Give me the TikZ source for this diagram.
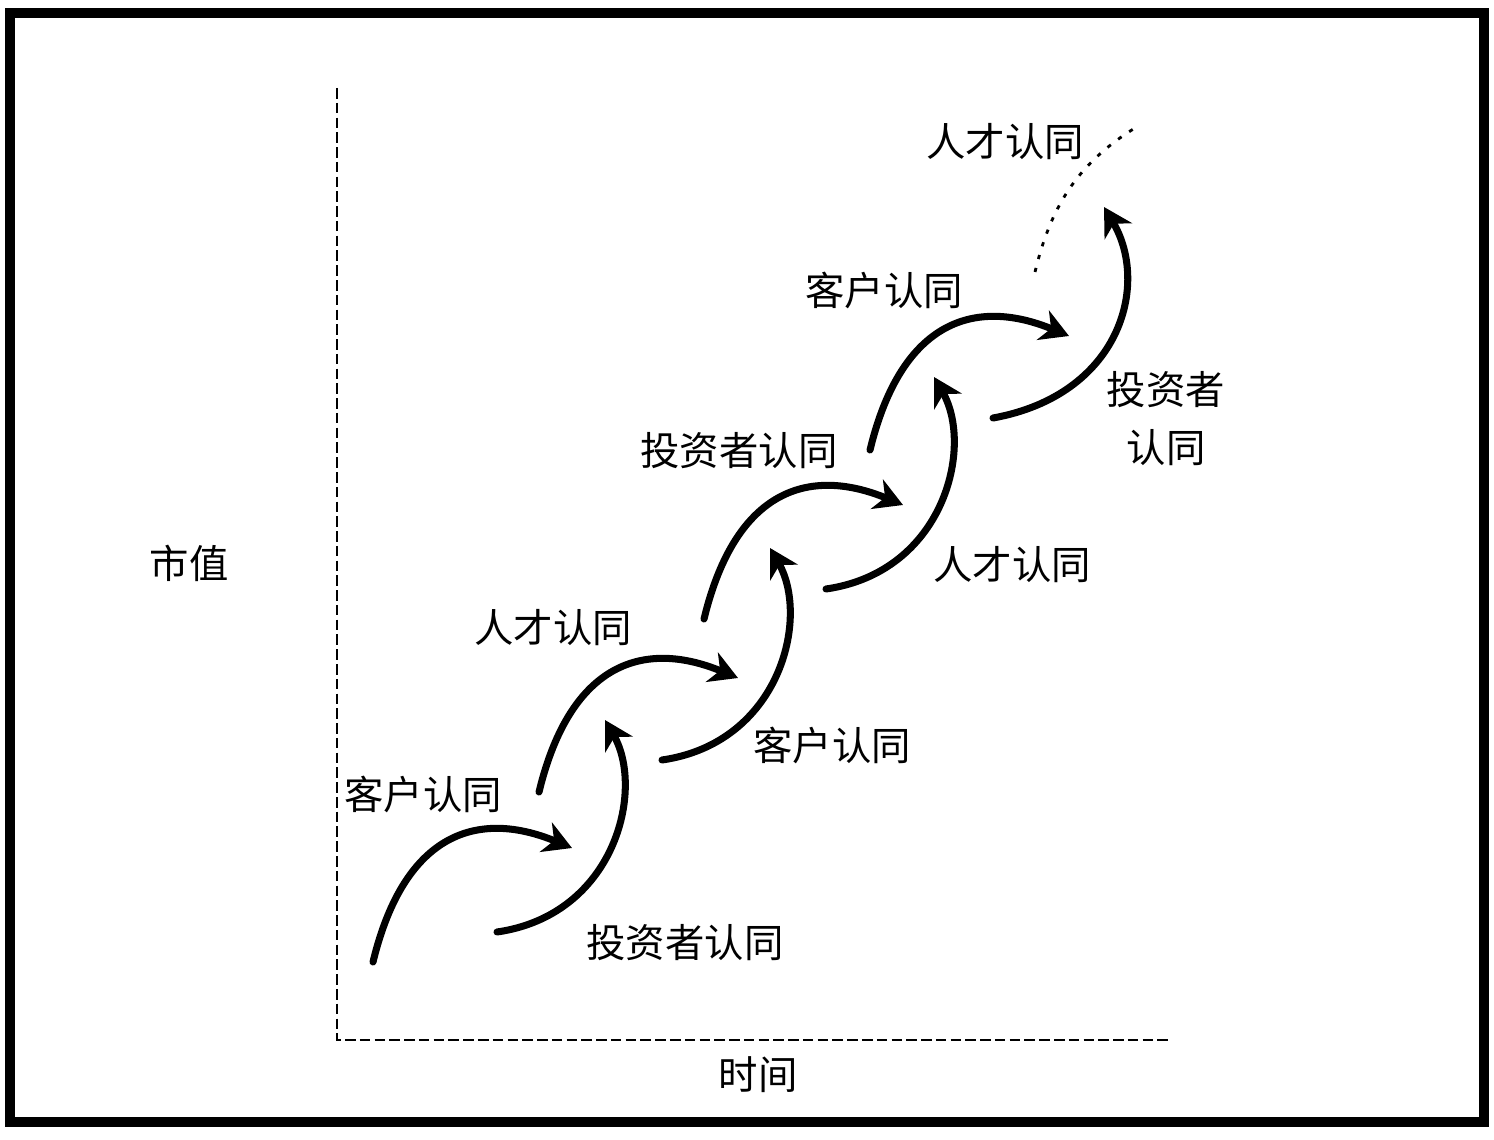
\documentclass[tikz,border=0pt]{standalone}
\usepackage{fontspec}
\newfontfamily\cjk{Noto Sans CJK SC}
\usetikzlibrary{arrows.meta}
\tikzset{
  lbl/.style={font=\cjk\fontsize{11.2pt}{16.5pt}\selectfont, inner sep=0pt},
  wave/.style={line width=2pt, line cap=round, -{Stealth[length=8pt,width=9pt,inset=2.5pt]}},
  axisline/.style={line width=0.6pt, dash pattern=on 3pt off 1.2pt},
}
\begin{document}
\begin{tikzpicture}[x=0.01cm,y=-0.01cm]
\useasboundingbox (0,0) rectangle (1494,1140);
% frame
\draw[line width=2.8pt] (10,13) rectangle (1484,1122);
% axes
\draw[axisline] (337,88) -- (337,1040) -- (1172,1040);
\node[lbl] (shizhi) at (189,563) {市值};
\node[lbl] (shijian) at (758,1075) {时间};
% labels
\node[lbl] (kehu1) at (423,794) {客户认同};
\node[lbl] (touzi1) at (685,943) {投资者认同};
\node[lbl] (rencai1) at (553,628) {人才认同};
\node[lbl] (kehu2) at (832,745) {客户认同};
\node[lbl] (touzi2) at (739,451) {投资者认同};
\node[lbl] (rencai2) at (1012,565) {人才认同};
\node[lbl] (kehu3) at (884,290) {客户认同};
\node[lbl, align=center] (touzi3) at (1166,419) {投资者\\认同};
\node[lbl] (rencai3) at (1005,142) {人才认同};
% waves, rightward
\draw[wave] (373,962) .. controls (405,830) and (480,810) .. (572,848);
\draw[wave] (539,792) .. controls (571,660) and (646,640) .. (738,678);
\draw[wave] (704,619) .. controls (736,487) and (811,467) .. (903,505);
\draw[wave] (870,450) .. controls (902,318) and (977,298) .. (1069,336);
% waves, upward
\draw[wave] (497,932) .. controls (615,915) and (645,790) .. (605,720);
\draw[wave] (662,760) .. controls (780,743) and (810,618) .. (770,548);
\draw[wave] (826,589) .. controls (944,572) and (974,447) .. (934,377);
\draw[wave] (993,418) .. controls (1120,395) and (1150,285) .. (1104,207);
% further growth
\draw[line width=0.8pt, dash pattern=on 1.2pt off 2.6pt] (1035,272) .. controls (1050,210) and (1075,165) .. (1135,128);
\end{tikzpicture}
\end{document}
